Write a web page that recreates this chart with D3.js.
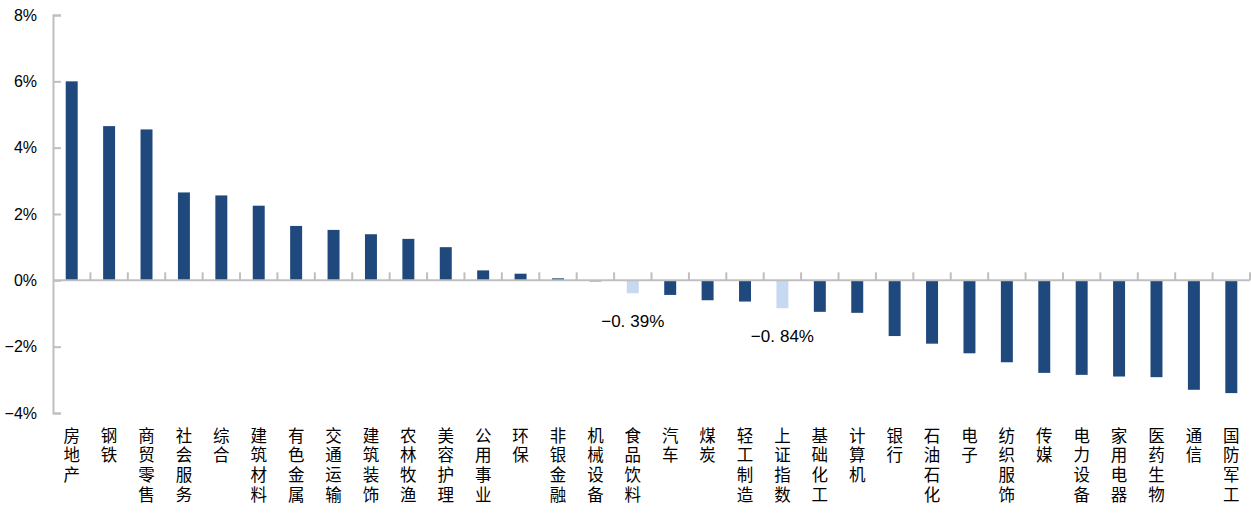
<!DOCTYPE html>
<html>
<head>
<meta charset="utf-8">
<script src="https://cdn.jsdelivr.net/npm/d3@7"></script>
<style>
  html, body { margin: 0; padding: 0; background: #fff; }
  svg { display: block; }
</style>
</head>
<body>
<svg id="chart" width="1251" height="516"></svg>
<script>
// Weekly return by industry (%), sorted high to low, with the index shown for reference
const categories = ["房地产","钢铁","商贸零售","社会服务","综合","建筑材料","有色金属","交通运输","建筑装饰","农林牧渔","美容护理","公用事业","环保","非银金融","机械设备","食品饮料","汽车","煤炭","轻工制造","上证指数","基础化工","计算机","银行","石油石化","电子","纺织服饰","传媒","电力设备","家用电器","医药生物","通信","国防军工"];
const values = [6.00,4.65,4.55,2.65,2.56,2.25,1.64,1.52,1.39,1.25,1.00,0.30,0.20,0.06,-0.03,-0.39,-0.44,-0.60,-0.64,-0.84,-0.95,-0.98,-1.68,-1.91,-2.20,-2.47,-2.79,-2.85,-2.90,-2.92,-3.30,-3.40];
// Categories drawn in the light highlight colour and labelled with their value
const highlighted = ["食品饮料","上证指数"];
const yTicks = [-4,-2,0,2,4,6,8];

const svg = d3.select("#chart");
const plotLeft = 53, plotRight = 1250, plotTop = 15, plotBottom = 413;

const x = d3.scaleBand().domain(categories).range([plotLeft, plotRight]).paddingInner(0).paddingOuter(0);
const y = d3.scaleLinear().domain([-4, 8]).range([plotBottom, plotTop]);

const dark = "#1f497d", light = "#c6d9f1", axisColor = "#bfbfbf";
const barW = x.bandwidth() * 0.32;

// bars
svg.append("g").selectAll("rect")
  .data(categories.map((c, i) => ({c, v: values[i]})))
  .join("rect")
  .attr("x", d => x(d.c) + (x.bandwidth() - barW) / 2)
  .attr("width", barW)
  .attr("y", d => y(Math.max(0, d.v)))
  .attr("height", d => Math.abs(y(d.v) - y(0)))
  .attr("fill", d => highlighted.includes(d.c) ? light : dark);

// y axis with inward ticks
const yAxis = d3.axisLeft(y).tickValues(yTicks).tickSize(-8).tickPadding(16)
  .tickFormat(d => (d < 0 ? "\u2212" + Math.abs(d) : d) + "%");
const gy = svg.append("g").attr("transform", `translate(${plotLeft},0)`).call(yAxis);
gy.select(".domain").attr("stroke", axisColor).attr("stroke-width", 2);
gy.selectAll(".tick line").attr("stroke", axisColor).attr("stroke-width", 2);
gy.selectAll(".tick text")
  .attr("fill", "#000")
  .style("font-family", "'Liberation Sans', Arial, sans-serif")
  .style("font-size", "16px");

// zero baseline with category separator ticks
const gx = svg.append("g").attr("transform", `translate(0,${y(0)})`);
gx.append("line").attr("x1", plotLeft).attr("x2", plotRight).attr("stroke", axisColor).attr("stroke-width", 2);
gx.selectAll("line.sep")
  .data(categories.slice(1).map(c => x(c)).concat([plotRight]))
  .join("line").attr("class", "sep")
  .attr("x1", d => d).attr("x2", d => d)
  .attr("y1", 0).attr("y2", -8)
  .attr("stroke", axisColor).attr("stroke-width", 2);

// vertical category labels, written top to bottom
svg.append("g")
  .style("font-family", "'Noto Sans CJK SC', sans-serif")
  .style("font-size", "16.5px")
  .selectAll("text")
  .data(categories)
  .join("text")
  .attr("x", c => x(c) + x.bandwidth() / 2)
  .attr("y", 427)
  .style("writing-mode", "vertical-rl")
  .style("letter-spacing", "3.2px")
  .attr("fill", "#000")
  .text(c => c);

// value labels for the highlighted bars
highlighted.forEach(c => {
  const v = values[categories.indexOf(c)];
  const [ip, fp] = v.toFixed(2).split(".");
  const t = svg.append("text")
    .attr("x", x(c) + x.bandwidth() / 2)
    .attr("y", y(v) + 34)
    .attr("text-anchor", "middle")
    .attr("fill", "#000")
    .style("font-family", "'Liberation Sans', Arial, sans-serif")
    .style("font-size", "17px");
  t.append("tspan").text(ip.replace("-", "\u2212") + ".");
  t.append("tspan").attr("dx", 5).text(fp + "%");
});
</script>
</body>
</html>
